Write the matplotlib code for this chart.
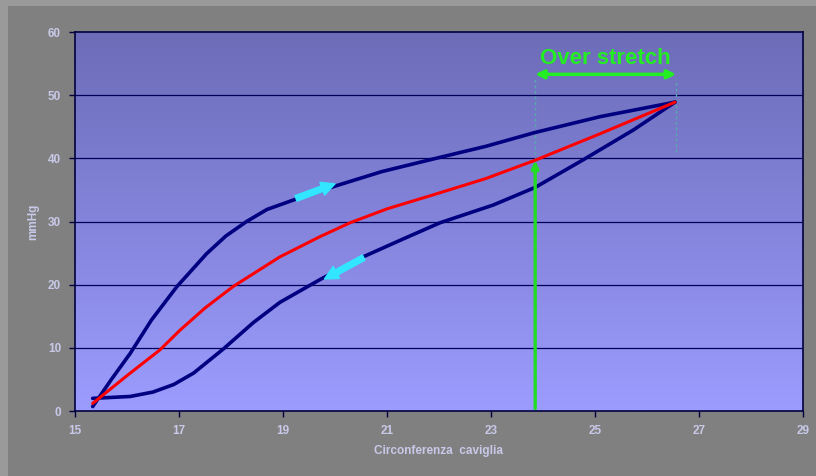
import numpy as np
import matplotlib.pyplot as plt
from matplotlib.patches import Rectangle, FancyArrowPatch
from matplotlib.colors import LinearSegmentedColormap

# curva di carico (salita)
x_up = [15.34, 15.7, 16.06, 16.47, 16.96, 17.53, 17.9, 18.3, 18.69, 19.2, 20.0, 20.9, 21.89, 22.9, 23.85, 25.1, 26.54]
y_up = [0.7, 5.0, 9.1, 14.4, 19.7, 24.9, 27.7, 30.0, 31.9, 33.4, 35.6, 37.9, 39.9, 41.9, 44.1, 46.6, 48.9]

# curva media (rossa)
x_mid = [15.34, 16.0, 16.63, 17.02, 17.5, 18.04, 18.94, 19.71, 20.29, 21.0, 21.88, 22.9, 23.85, 25.1, 26.54]
y_mid = [1.2, 5.6, 9.65, 12.8, 16.3, 19.7, 24.4, 27.6, 29.8, 32.0, 34.2, 36.8, 39.7, 43.9, 48.9]

# curva di scarico (discesa)
x_down = [15.34, 16.06, 16.5, 16.9, 17.28, 17.85, 18.43, 18.94, 19.71, 20.54, 21.3, 22.02, 23.04, 23.85, 24.78, 25.74, 26.54]
y_down = [2.0, 2.3, 3.0, 4.2, 6.0, 9.8, 14.0, 17.2, 20.8, 24.4, 27.2, 29.8, 32.6, 35.4, 39.8, 44.5, 48.9]

x_stretch = 23.85
y_stretch = 39.7
x_end = 26.56

fig = plt.figure(figsize=(8.16, 4.76), dpi=100, facecolor='#9a9a9a')
fig.patches.append(Rectangle((8 / 816, 0), 1, 1 - 6 / 476, transform=fig.transFigure,
                             facecolor='#808080', edgecolor='none', zorder=-1))

ax = fig.add_axes([75 / 816, 1 - 411 / 476, 728 / 816, 379 / 476])
ax.set_xlim(15, 29)
ax.set_ylim(0, 60)

# sfondo sfumato
grad = np.linspace(0, 1, 256).reshape(-1, 1)
cmap = LinearSegmentedColormap.from_list('bg', ['#9c9cff', '#6c6cb8'])
ax.imshow(grad, extent=[15, 29, 0, 60], origin='lower', aspect='auto', cmap=cmap, zorder=0)

for yv in range(10, 60, 10):
    ax.axhline(yv, color='#00005a', lw=0.9, zorder=1)

kw = dict(lw=2.6, zorder=3, solid_capstyle='round', solid_joinstyle='round')
ax.plot(x_down, y_down, color='#000080', **kw)
ax.plot(x_up, y_up, color='#000080', **kw)
ax.plot(x_mid, y_mid, color='#ff0000', lw=2.2, zorder=4, solid_capstyle='round', solid_joinstyle='round')

# frecce ciano
ax.add_patch(FancyArrowPatch((19.2, 33.5), (20.05, 36.1), arrowstyle='simple,head_width=7,tail_width=3,head_length=7',
                             color='#33e6ff', zorder=5, mutation_scale=1.4))
ax.add_patch(FancyArrowPatch((20.6, 24.5), (19.75, 20.7), arrowstyle='simple,head_width=7,tail_width=3,head_length=7',
                             color='#33e6ff', zorder=5, mutation_scale=1.4))

# over stretch
ax.annotate('', xy=(x_stretch, y_stretch), xytext=(x_stretch, 0.4),
            arrowprops=dict(arrowstyle='-|>,head_width=0.2,head_length=0.45', color='#22dd22', lw=2.4,
                            shrinkA=0, shrinkB=0), zorder=5)
ax.plot([x_stretch, x_stretch], [y_stretch, 52.5], color='#55aaaa', lw=1, ls=(0, (2, 2)), zorder=2)
ax.plot([x_end, x_end], [41, 52.5], color='#55aaaa', lw=1, ls=(0, (2, 2)), zorder=2)
ax.annotate('', xy=(x_stretch, 53.3), xytext=(x_end, 53.3),
            arrowprops=dict(arrowstyle='<|-|>,head_width=0.25,head_length=0.5', color='#22ee22', lw=2.5,
                            shrinkA=0, shrinkB=0), zorder=6)
ax.text((x_stretch + x_end) / 2, 55.8, 'Over stretch', color='#22ee22', fontsize=16, fontweight='bold',
        ha='center', va='center', family='Liberation Sans', zorder=6)

ax.set_xticks(range(15, 30, 2))
ax.set_yticks(range(0, 61, 10))
lab = '#c8c8e8'
ax.tick_params(colors='#000040', labelcolor=lab, length=4, width=1, labelsize=8.5, pad=6)
for t in ax.get_xticklabels() + ax.get_yticklabels():
    t.set_fontweight('bold')
    t.set_family('Liberation Sans')
for s in ax.spines.values():
    s.set_color('#000040')
    s.set_linewidth(1.2)

ax.set_xlabel('Circonferenza  caviglia', color=lab, fontsize=8.5, fontweight='bold',
              family='Liberation Sans', labelpad=6)
ax.set_ylabel('mmHg', color=lab, fontsize=8.5, fontweight='bold', family='Liberation Sans', labelpad=6)

fig.savefig('out.png', dpi=100, facecolor=fig.get_facecolor())
